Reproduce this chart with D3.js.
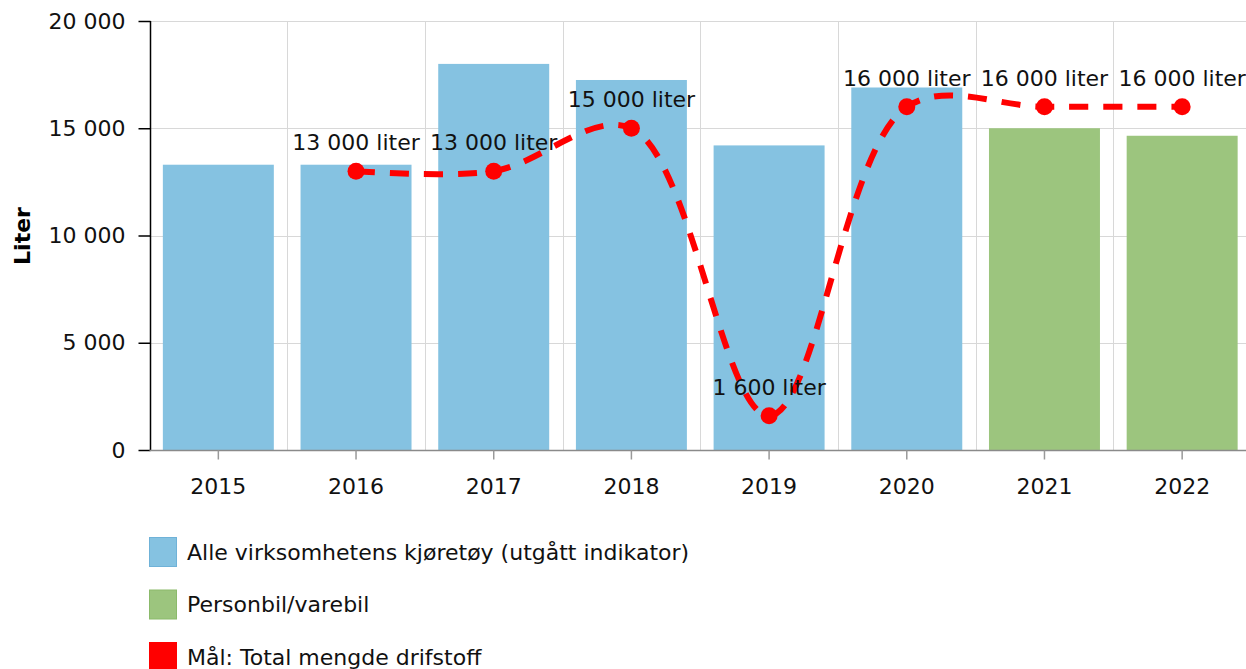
<!DOCTYPE html>
<html>
<head>
<meta charset="utf-8">
<script src="https://cdn.jsdelivr.net/npm/d3@7"></script>
<style>
  html, body { margin: 0; padding: 0; background: #fff; overflow: hidden; }
  svg { display: block; font-family: "DejaVu Sans", Verdana, sans-serif; }
</style>
</head>
<body>
<svg id="chart" width="1246" height="669"></svg>
<script>
const categories = ["2015", "2016", "2017", "2018", "2019", "2020", "2021", "2022"];
const allVehicles = [13300, 13300, 18000, 17250, 14200, 16900, null, null];
const carVan = [null, null, null, null, null, null, 15000, 14650];
const targetYears = ["2016", "2017", "2018", "2019", "2020", "2021", "2022"];
const targetValues = [13000, 13000, 15000, 1600, 16000, 16000, 16000];
const yTicks = [0, 5000, 10000, 15000, 20000];
const seriesNames = ["Alle virksomhetens kjøretøy (utgått indikator)", "Personbil/varebil", "Mål: Total mengde drifstoff"];
const seriesColors = ["#85c2e1", "#9cc57e", "#ff0000"];
const seriesBorders = ["#6fb2d8", "#8bba6b", "#ff0000"];

const svg = d3.select("#chart");
const margin = { left: 149.5, right: 1251, top: 21, bottom: 450 };
const FS = 22;

const x = d3.scaleBand().domain(categories).range([margin.left, margin.right]).padding(0);
const y = d3.scaleLinear().domain([0, 20000]).range([margin.bottom, margin.top]);
const fmt = v => d3.format(",")(v).replace(/,/g, " ");

// grid
const grid = svg.append("g");
grid.selectAll("line.h").data(yTicks).join("line")
  .attr("x1", margin.left).attr("x2", 1246)
  .attr("y1", d => Math.round(y(d)) + 0.5).attr("y2", d => Math.round(y(d)) + 0.5)
  .attr("stroke", "#d8d8d8").attr("stroke-width", 1);
grid.selectAll("line.v").data(categories.slice(1)).join("line")
  .attr("x1", d => Math.round(x(d)) + 0.5).attr("x2", d => Math.round(x(d)) + 0.5)
  .attr("y1", margin.top).attr("y2", margin.bottom)
  .attr("stroke", "#d8d8d8").attr("stroke-width", 1);

// bars
const barW = x.bandwidth() * 0.806;
const barOff = (x.bandwidth() - barW) / 2;
const bars = svg.append("g");
[allVehicles, carVan].forEach((vals, i) => {
  bars.selectAll(null).data(categories.map((c, j) => ({ c, v: vals[j] })).filter(d => d.v != null))
    .join("rect")
    .attr("x", d => x(d.c) + barOff)
    .attr("width", barW)
    .attr("y", d => y(d.v))
    .attr("height", d => y(0) - y(d.v))
    .attr("fill", seriesColors[i]);
});

// axes
const yAxis = svg.append("g").attr("transform", `translate(${Math.round(margin.left) + 0.5},0)`)
  .call(d3.axisLeft(y).tickValues(yTicks).tickFormat(fmt).tickSize(12).tickPadding(13));
yAxis.select(".domain").attr("stroke", "#000").attr("stroke-width", 1.5).attr("d", `M0,${margin.top}V${margin.bottom}`);
yAxis.selectAll(".tick line").attr("stroke", "#000").attr("stroke-width", 1.5);
yAxis.selectAll(".tick text").attr("font-size", FS).attr("fill", "#111").attr("font-family", "DejaVu Sans, Verdana, sans-serif");

const xAxis = svg.append("g").attr("transform", `translate(0,${Math.round(margin.bottom) + 0.5})`)
  .call(d3.axisBottom(x).tickSize(9).tickPadding(19));
xAxis.select(".domain").attr("stroke", "#8a8a8a").attr("stroke-width", 1.5).attr("d", `M${margin.left},0H1246`);
xAxis.selectAll(".tick line").attr("stroke", "#999").attr("stroke-width", 1.5);
xAxis.selectAll(".tick text").attr("font-size", FS).attr("fill", "#111").attr("font-family", "DejaVu Sans, Verdana, sans-serif");

// y title
svg.append("text")
  .attr("transform", `translate(30,236) rotate(-90)`)
  .attr("text-anchor", "middle")
  .attr("font-size", 22).attr("font-weight", "bold").attr("fill", "#000")
  .text("Liter");

// target line
const pts = targetYears.map((c, i) => ({ c, v: targetValues[i] }));
const cx = d => x(d.c) + x.bandwidth() / 2;
const line = d3.line().x(cx).y(d => y(d.v)).curve(d3.curveCatmullRom.alpha(0.5));
svg.append("path").attr("d", line(pts))
  .attr("fill", "none").attr("stroke", seriesColors[2]).attr("stroke-width", 6)
  .attr("stroke-dasharray", "19,15");
svg.append("g").selectAll("circle").data(pts).join("circle")
  .attr("cx", cx).attr("cy", d => y(d.v)).attr("r", 8.5).attr("fill", seriesColors[2]);
svg.append("g").selectAll("text").data(pts).join("text")
  .attr("x", cx).attr("y", d => y(d.v) - 21)
  .attr("text-anchor", "middle").attr("font-size", FS).attr("fill", "#111")
  .text(d => fmt(d.v) + " liter");

// legend
const legend = svg.append("g");
const items = legend.selectAll("g").data(seriesNames).join("g")
  .attr("transform", (d, i) => `translate(149,${537 + i * 52.5})`);
items.append("rect").attr("x", 0.5).attr("y", 0.5).attr("width", 27).attr("height", 29)
  .attr("fill", (d, i) => seriesColors[i]).attr("stroke", (d, i) => seriesBorders[i]).attr("stroke-width", 1);
items.append("text").attr("x", 38).attr("y", 15).attr("dy", "0.35em")
  .attr("font-size", FS).attr("fill", "#111").text(d => d);
</script>
</body>
</html>
